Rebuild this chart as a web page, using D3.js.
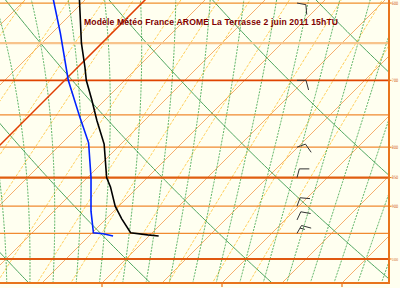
<!DOCTYPE html>
<html><head><meta charset="utf-8">
<script src="https://cdn.jsdelivr.net/npm/d3@7"></script>
<style>html,body{margin:0;padding:0;background:#fff;}svg{display:block}</style>
</head><body><svg id="c" width="400" height="288"></svg>
<script>
// ---------- data ----------
const title = "Modèle Météo France AROME La Terrasse 2 juin 2011 15hTU";
const isobars = [600, 650, 700, 750, 800, 850, 900, 950, 1000];
const labelPressures = [600, 700, 800, 850, 900, 1000];
const labelTexts = ["600", "700", "800", "850", "900", "1000"];
const isotherms = d3.range(-60, 61, 5);
const dryAdiabats = d3.range(-30, 131, 10);
const moistAdiabats = d3.range(-10, 52, 2);
const mixingRatios = [1, 2, 3, 4, 5, 6, 8, 10, 12, 15, 20, 25, 30];
const bottomTicks = [20, 30, 40];
const tempP = [585, 650, 682, 700, 728, 758, 795, 850, 866, 900, 923, 949, 953, 955];
const tempT = [-6.3, -1.7, 0.6, 1.8, 3.9, 6.0, 8.6, 11.6, 12.7, 14.7, 16.3, 18.2, 19.8, 20.8];
const dewP = [585, 637, 700, 753, 793, 850, 909, 949, 951, 955];
const dewT = [-8.6, -4.3, 0.3, 4.3, 7.2, 10.3, 13.1, 15.1, 16.0, 17.0];
const windP = [600, 700, 800, 850, 900, 925, 950];
const windDir = [100, 90, 70, 15, 20, 25, 30];
const windSpd = [10, 10, 10, 10, 10, 10, 15];

// ---------- geometry ----------
const W = 400, H = 288, R = 389, B = 283;
const y = d3.scaleLog().domain([1000, 600]).range([259, 259 - 501 * Math.log(1000 / 600)]);
const xs = d3.scaleLinear().domain([20, 40]).range([102, 342]);
const X = (T, p) => xs(T) + (B - y(p));

const svg = d3.select("#c");
svg.append("rect").attr("width", W).attr("height", H).attr("fill", "#fffff0");
svg.append("defs").append("clipPath").attr("id", "clip")
  .append("rect").attr("x", 0).attr("y", 0).attr("width", R).attr("height", B);
const g = svg.append("g").attr("clip-path", "url(#clip)");

const line = d3.line().x(d => X(d[0], d[1])).y(d => y(d[1]));
const pTop = 570, pBot = 1070;
const pRange = d3.range(pBot, pTop - 1, -5);

// isotherms
g.append("g").selectAll("path").data(isotherms.filter(t => t !== 0)).join("path")
  .attr("d", t => line([[t, pBot], [t, pTop]]))
  .attr("stroke", "#f29444").attr("stroke-width", 0.75).attr("fill", "none");

// mixing ratio lines
function tdFromW(w, p) {
  const e = (w / 1000) * p / (0.622 + w / 1000);
  const l = Math.log(e / 6.112);
  return 243.5 * l / (17.67 - l);
}
g.append("g").selectAll("path").data(mixingRatios).join("path")
  .attr("d", w => line(pRange.map(p => [tdFromW(w, p), p])))
  .attr("stroke", "#ffc848").attr("stroke-width", 0.9).attr("stroke-dasharray", "3,1.5").attr("fill", "none");

// moist adiabats
function dTdlnp(p, T) {
  const tc = T - 273.15;
  const es = 6.112 * Math.exp(17.67 * tc / (tc + 243.5));
  const rs = 0.622 * es / (p - es);
  const Lv = 2.501e6, Rd = 287.04, cp = 1005.7;
  return (Rd * T + Lv * rs) / (cp + Lv * Lv * rs * 0.622 / (Rd * T * T));
}
function moist(thw) {
  let T = thw + 273.15, p;
  const up = [];
  for (p = 1000; p >= pTop; p -= 2) {
    up.push([T - 273.15, p]);
    const k1 = dTdlnp(p, T);
    const Tm = T + k1 * Math.log((p - 1) / p);
    const k2 = dTdlnp(p - 1, Tm);
    T = T + k2 * Math.log((p - 2) / p);
  }
  T = thw + 273.15;
  const down = [];
  for (p = 1000; p <= pBot; p += 2) {
    down.push([T - 273.15, p]);
    const k1 = dTdlnp(p, T);
    const Tm = T + k1 * Math.log((p + 1) / p);
    const k2 = dTdlnp(p + 1, Tm);
    T = T + k2 * Math.log((p + 2) / p);
  }
  return down.reverse().concat(up.slice(1));
}
g.append("g").selectAll("path").data(moistAdiabats).join("path")
  .attr("d", t => line(moist(t)))
  .attr("stroke", "#44a850").attr("stroke-width", 0.9).attr("stroke-dasharray", "2,1.2").attr("fill", "none");

// dry adiabats
g.append("g").selectAll("path").data(dryAdiabats).join("path")
  .attr("d", th => line(pRange.map(p => [(th + 273.15) * Math.pow(p / 1000, 0.2857) - 273.15, p])))
  .attr("stroke", "#3c9c50").attr("stroke-width", 0.9).attr("fill", "none");

// isobars
const isoStyle = {600: ["#f0902c", 1.4], 650: ["#f8c48c", 2.2], 700: ["#e04400", 1.8], 750: ["#f08a30", 1.2],
  800: ["#f08a30", 1.2], 850: ["#e05e10", 2.4], 900: ["#f08a30", 1.2], 950: ["#f08a30", 1.2], 1000: ["#e05810", 2]};
g.append("g").selectAll("line").data(isobars).join("line")
  .attr("x1", 0).attr("x2", R).attr("y1", p => y(p)).attr("y2", p => y(p))
  .attr("stroke", p => isoStyle[p][0]).attr("stroke-width", p => isoStyle[p][1]);

// 0 °C isotherm
g.append("path").attr("d", line([[0, pBot], [0, pTop]]))
  .attr("stroke", "#e03c00").attr("stroke-width", 1.5).attr("fill", "none");

// profiles
g.append("path").attr("d", line(dewP.map((p, i) => [dewT[i], p])))
  .attr("stroke", "#0022ff").attr("stroke-width", 1.6).attr("fill", "none");
g.append("path").attr("d", line(tempP.map((p, i) => [tempT[i], p])))
  .attr("stroke", "#000").attr("stroke-width", 1.6).attr("fill", "none");

// wind barbs
const bx = 297;
const rad = a => a * Math.PI / 180;
windP.forEach((p, i) => {
  const d = windDir[i], s = windSpd[i];
  const x0 = bx, y0 = y(p), L = 9;
  const vx = Math.sin(rad(d)), vy = -Math.cos(rad(d));
  const tx = x0 + vx * L, ty = y0 + vy * L;
  const bd = d + 75, bxv = Math.sin(rad(bd)), byv = -Math.cos(rad(bd));
  let path = `M${x0},${y0}L${tx},${ty}`;
  const n = Math.floor(s / 10), half = (s % 10) >= 5;
  let k = 0;
  for (; k < n; k++) {
    const sx = tx - vx * 3 * k, sy = ty - vy * 3 * k;
    path += `M${sx},${sy}l${bxv * 10},${byv * 10}`;
  }
  if (half) {
    const sx = tx - vx * 3 * k, sy = ty - vy * 3 * k;
    path += `M${sx},${sy}l${bxv * 5},${byv * 5}`;
  }
  g.append("path").attr("d", path).attr("stroke", "#333").attr("stroke-width", 1).attr("fill", "none");
});

// borders
svg.append("line").attr("x1", 0).attr("x2", R + 1).attr("y1", B).attr("y2", B).attr("stroke", "#e8741c").attr("stroke-width", 2);
svg.append("line").attr("x1", R).attr("x2", R).attr("y1", 0).attr("y2", B + 1).attr("stroke", "#e8741c").attr("stroke-width", 2);

// right labels
svg.append("g").selectAll("line").data(labelPressures).join("line")
  .attr("x1", R).attr("x2", R + 2.5).attr("y1", p => y(p)).attr("y2", p => y(p))
  .attr("stroke", "#e8741c").attr("stroke-width", 1);
svg.append("g").selectAll("text").data(labelPressures).join("text")
  .attr("x", R + 2.8).attr("y", p => Math.max(y(p) + 1.7, 4)).text((p, i) => labelTexts[i])
  .attr("font-family", "DejaVu Sans").attr("font-size", (p, i) => labelTexts[i].length > 3 ? 3.8 : 4.6)
  .attr("textLength", 6.4).attr("lengthAdjust", "spacingAndGlyphs").attr("fill", "#d06010");

// bottom ticks
svg.append("g").selectAll("line").data(bottomTicks).join("line")
  .attr("x1", t => xs(t)).attr("x2", t => xs(t)).attr("y1", B).attr("y2", B + 4)
  .attr("stroke", "#e8741c").attr("stroke-width", 1.2);

// title
svg.append("text").attr("x", 84).attr("y", 25).text(title)
  .attr("font-family", "Liberation Sans").attr("font-weight", "bold").attr("font-size", 8.6)
  .attr("textLength", 254).attr("lengthAdjust", "spacing").attr("fill", "#800000");
</script></body></html>
